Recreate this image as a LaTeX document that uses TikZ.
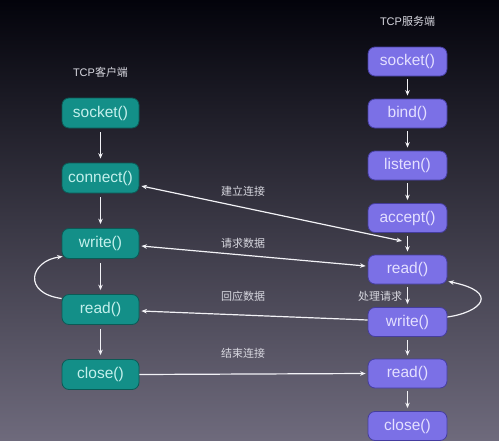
\documentclass[tikz,border=0pt]{standalone}
\usepackage{fontspec}
\setmainfont{Liberation Sans}
\newfontfamily\cjk{Noto Sans CJK SC}
\usetikzlibrary{arrows.meta,calc}
\definecolor{bgtop}{HTML}{03030B}
\definecolor{bgmid}{HTML}{29273E}
\definecolor{bgbot}{HTML}{6E6A7C}
\definecolor{tealfill}{HTML}{138F88}
\definecolor{tealline}{HTML}{0B5A55}
\definecolor{tealtext}{HTML}{C4F0EC}
\definecolor{purpfill}{HTML}{7B70E6}
\definecolor{purpline}{HTML}{453D9E}
\definecolor{purptext}{HTML}{E4E0FF}
\definecolor{linecol}{HTML}{F2F2F6}
\definecolor{labcol}{HTML}{D8D8E0}
\tikzset{
  cbox/.style={draw=tealline, line width=0.8pt, fill=tealfill, rounded corners=7pt,
    minimum width=77pt, minimum height=30pt, inner sep=0pt, text=tealtext,
    font=\fontsize{15.5}{18}\selectfont},
  sbox/.style={draw=purpline, line width=0.8pt, fill=purpfill, rounded corners=7pt,
    minimum width=79pt, minimum height=29pt, inner sep=0pt, text=purptext,
    font=\fontsize{15.5}{18}\selectfont},
  tip/.style={-{Stealth[length=5.5pt,width=4.5pt]}},
  dtip/.style={{Stealth[length=5.5pt,width=4.5pt]}-{Stealth[length=5.5pt,width=4.5pt]}},
  conn/.style={draw=linecol, line width=1.2pt},
  vconn/.style={conn, tip, shorten <=4pt, shorten >=4pt},
  svconn/.style={conn, tip, shorten <=3pt, shorten >=3pt},
  lab/.style={text=labcol, font=\cjk\fontsize{11}{13}\selectfont, inner sep=0pt},
  head/.style={text=labcol, font=\fontsize{11}{13}\selectfont, inner sep=0pt},
}
\begin{document}
\begin{tikzpicture}[x=1pt,y=-1pt]
\useasboundingbox (0,0) rectangle (499,440);
\shade[top color=bgtop, middle color=bgmid, bottom color=bgbot] (0,0) rectangle (499,440);
\begin{scope}
\clip (0,0) rectangle (499,440);
% headings
\node[head] (hc) at (100.5,72) {TCP{\cjk 客户端}};
\node[head] (hs) at (407.5,21) {TCP{\cjk 服务端}};
% client boxes
\node[cbox] (c1) at (100.5,113) {socket()};
\node[cbox] (c2) at (100.5,178) {connect()};
\node[cbox] (c3) at (100.5,243.5) {write()};
\node[cbox] (c4) at (100.5,309.5) {read()};
\node[cbox] (c5) at (100.5,374.5) {close()};
% server boxes
\node[sbox] (s1) at (407.5,61.5) {socket()};
\node[sbox] (s2) at (407.5,113.5) {bind()};
\node[sbox] (s3) at (407.5,165.5) {listen()};
\node[sbox] (s4) at (407.5,218) {accept()};
\node[sbox] (s5) at (407.5,269.5) {read()};
\node[sbox] (s6) at (407.5,322) {write()};
\node[sbox] (s7) at (407.5,373.5) {read()};
\node[sbox] (s8) at (407.5,426) {close()};
% vertical arrows
\draw[vconn] (c1) -- (c2);
\draw[vconn] (c2) -- (c3);
\draw[vconn] (c3) -- (c4);
\draw[vconn] (c4) -- (c5);
\draw[svconn] (s1) -- (s2);
\draw[svconn] (s2) -- (s3);
\draw[svconn] (s3) -- (s4);
\draw[svconn] (s4) -- (s5);
\draw[svconn] (s5) -- (s6);
\draw[svconn] (s6) -- (s7);
\draw[svconn] (s7) -- (s8);
% cross connections
\coordinate (acc) at (402,241);
\draw[conn, dtip] ([xshift=2pt,yshift=-8pt]c2.east) -- (acc);
\draw[conn, dtip] ([xshift=2pt,yshift=-2.5pt]c3.east) -- ([xshift=-2pt,yshift=3.5pt]s5.west);
\draw[conn, tip] ([yshift=2pt]s6.west) -- ([xshift=2pt,yshift=-1.5pt]c4.east);
\draw[conn, tip] (c5.east) -- ([xshift=-2pt]s7.west);
% loops
\draw[conn, tip] ([yshift=11pt]c4.west) .. controls (22,293) and (30,261) .. ([xshift=1pt,yshift=-13pt]c3.west);
\draw[conn, tip] ([yshift=5pt]s6.east) .. controls (482,312) and (500,292) .. ([xshift=1pt,yshift=-12pt]s5.east);
% labels
\node[lab] (l1) at (243,191) {建立连接};
\node[lab] (l2) at (243,243.5) {请求数据};
\node[lab] (l3) at (243,296) {回应数据};
\node[lab] (l4) at (243,353) {结束连接};
\node[lab] (l5) at (380,296) {处理请求};
\end{scope}
\end{tikzpicture}
\end{document}
